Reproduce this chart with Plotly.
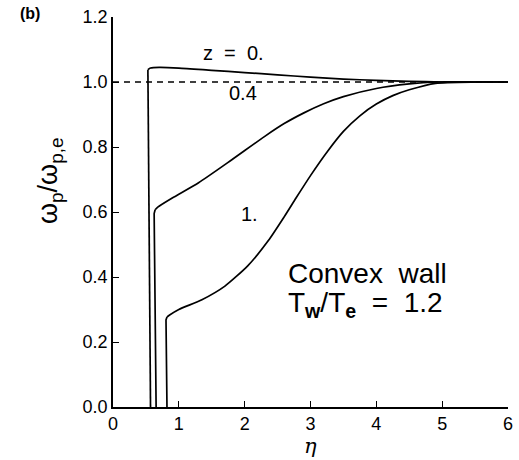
import plotly.graph_objects as go

# ---- data ----
eta_z0 = [0.57, 0.52, 0.53, 0.57, 0.7, 1.0, 1.5, 2.0, 2.5, 3.0, 3.5, 4.0, 4.5, 5.0, 5.5, 6.0]
val_z0 = [0.0, 1.03, 1.038, 1.043, 1.045, 1.043, 1.036, 1.029, 1.022, 1.015, 1.009, 1.005, 1.002, 1.0, 1.0, 1.0]

eta_z04 = [0.655, 0.625, 0.64, 0.68, 0.9, 1.3, 1.8, 2.3, 2.6, 2.9, 3.2, 3.5, 4.0, 4.5, 4.9, 5.5, 6.0]
val_z04 = [0.0, 0.595, 0.607, 0.615, 0.643, 0.69, 0.76, 0.832, 0.872, 0.905, 0.933, 0.955, 0.98, 0.994, 1.0, 1.0, 1.0]

eta_z1 = [0.82, 0.805, 0.82, 0.86, 1.0, 1.35, 1.7, 2.05, 2.36, 2.6, 2.78, 3.0, 3.26, 3.5, 3.75, 4.0, 4.25, 4.5, 4.9, 5.5, 6.0]
val_z1 = [0.0, 0.268, 0.277, 0.283, 0.3, 0.33, 0.372, 0.435, 0.512, 0.585, 0.643, 0.712, 0.787, 0.848, 0.896, 0.932, 0.958, 0.976, 0.996, 1.0, 1.0]

ref_eta = [0, 6]
ref_val = [1.0, 1.0]

x_ticks = [0, 1, 2, 3, 4, 5, 6]
y_ticks = [0.0, 0.2, 0.4, 0.6, 0.8, 1.0, 1.2]
y_tick_labels = ["0.0", "0.2", "0.4", "0.6", "0.8", "1.0", "1.2"]

FONT = "Liberation Sans, Arial, sans-serif"

fig = go.Figure()
fig.add_trace(go.Scatter(x=ref_eta, y=ref_val, mode="lines",
                         line=dict(color="black", width=1.3, dash="6px,5px"), hoverinfo="skip"))
for ex, vy in [(eta_z0, val_z0), (eta_z04, val_z04), (eta_z1, val_z1)]:
    # steep wall segment (straight) and the smooth outer profile (spline)
    fig.add_trace(go.Scatter(x=ex[:3], y=vy[:3], mode="lines",
                             line=dict(color="black", width=1.7)))
    fig.add_trace(go.Scatter(x=ex[2:], y=vy[2:], mode="lines",
                             line=dict(color="black", width=1.7, shape="spline", smoothing=0.6)))

fig.update_layout(
    width=519, height=460,
    margin=dict(l=113, r=6, t=17, b=53),
    paper_bgcolor="white", plot_bgcolor="white",
    showlegend=False,
    font=dict(family=FONT, color="black"),
)
fig.update_xaxes(range=[0, 6], tickvals=x_ticks, ticks="inside", ticklen=6, tickwidth=1.3,
                 tickcolor="black", showline=True, linecolor="black", linewidth=1.6,
                 showgrid=False, zeroline=False, tickfont=dict(size=18, family=FONT))
fig.update_yaxes(range=[0, 1.2], tickvals=y_ticks, ticktext=y_tick_labels, ticks="inside",
                 ticklen=6, tickwidth=1.3, tickcolor="black", showline=True, linecolor="black",
                 linewidth=1.6, showgrid=False, zeroline=False,
                 tickfont=dict(size=18, family=FONT))

ann = [
    dict(text="z  =  0.", x=1.83, y=1.089, font=dict(size=20)),
    dict(text="0.4", x=1.98, y=0.966, font=dict(size=20)),
    dict(text="1.", x=2.08, y=0.594, font=dict(size=20)),
    dict(text="Convex  wall", x=2.63, y=0.412, xanchor="left", font=dict(size=28)),
    dict(text="T<sub><b>w</b></sub>/T<sub><b>e</b></sub>  =  1.2", x=2.63, y=0.314,
         xanchor="left", font=dict(size=28)),
]
for a in ann:
    a.update(xref="x", yref="y", showarrow=False)
    a.setdefault("xanchor", "center")
    a["font"]["family"] = FONT
    a["font"]["color"] = "black"
    fig.add_annotation(**a)

fig.add_annotation(text="ω<sub>p</sub>/ω<sub>p,e</sub>", xref="paper", yref="paper",
                   x=-0.207, y=0.58, textangle=-90, showarrow=False,
                   font=dict(size=27, family=FONT, color="black"))
fig.add_annotation(text="<i>η</i>", xref="paper", yref="paper", x=0.5, y=-0.1, yanchor="middle",
                   showarrow=False, font=dict(size=21, family="DejaVu Serif", color="black"))
fig.add_annotation(text="<b>(b)</b>", xref="paper", yref="paper", x=-0.24, y=1.01,
                   xanchor="left", yanchor="middle", showarrow=False,
                   font=dict(size=16, family=FONT, color="black"))

fig.write_html("out.html")
